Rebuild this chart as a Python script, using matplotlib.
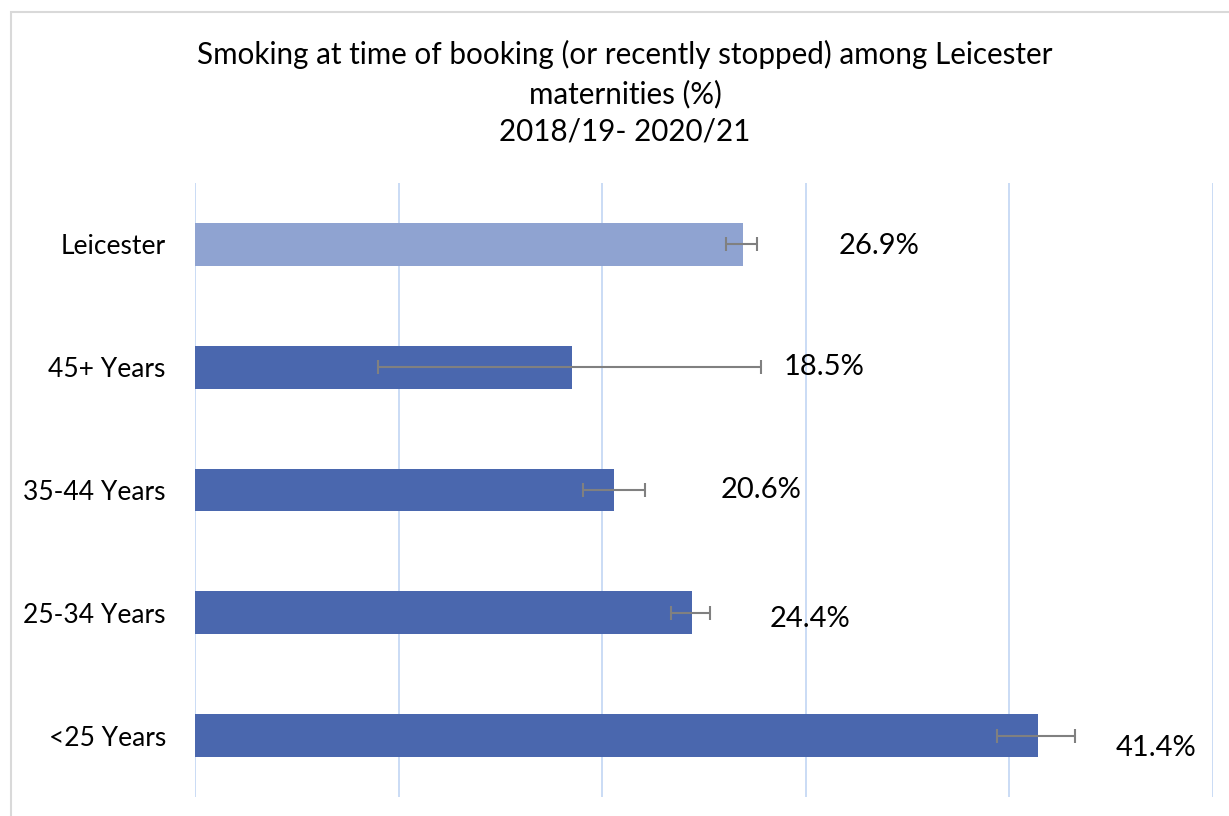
import matplotlib.pyplot as plt
from matplotlib.patches import Rectangle
import numpy as np

plt.rcParams['font.family'] = ['Lato', 'DejaVu Sans']

# data, bottom to top
categories = ["<25 Years", "25-34 Years", "35-44 Years", "45+ Years", "Leicester"]
values = [41.4, 24.4, 20.6, 18.5, 26.9]
ci_low = [39.4, 23.4, 19.05, 9.0, 26.1]
ci_high = [43.2, 25.3, 22.1, 27.8, 27.6]
labels = ["41.4%", "24.4%", "20.6%", "18.5%", "26.9%"]

# where the data labels sit (x in data units, y offset in category units)
label_x = [45.2, 28.2, 25.8, 28.9, 31.6]
label_dy = [-0.1, -0.05, 0.0, 0.0, -0.01]

bar_col = "#4A67AE"
lei_col = "#8FA3D1"
colors = [bar_col] * 4 + [lei_col]

fig = plt.figure(figsize=(12.29, 8.16), dpi=100)
fig.patches.append(Rectangle((11 / 1229, -0.1), 1.2, (816 - 12) / 816 + 0.1,
                             transform=fig.transFigure, fill=False,
                             edgecolor="#D9D9D9", linewidth=1.5))

ax = fig.add_axes([195 / 1229, 19 / 816, (1213 - 195) / 1229, (797 - 183) / 816])
y = np.arange(len(categories))
v = np.array(values)
err = [v - np.array(ci_low), np.array(ci_high) - v]
ax.barh(y, values, height=0.35, color=colors, zorder=2)
ax.errorbar(values, y, xerr=err, fmt="none", ecolor="#808080", elinewidth=1.5,
            capsize=5, capthick=1.5, zorder=3)

for i in range(len(labels)):
    ax.text(label_x[i], y[i] + label_dy[i], labels[i], fontsize=21,
            ha="left", va="center", color="#000000")

ax.set_xlim(0, 50)
ax.set_ylim(-0.5, 4.5)
ax.set_xticks(np.arange(0, 51, 10))
ax.set_xticklabels([])
ax.tick_params(axis="x", length=0)
ax.tick_params(axis="y", length=0, pad=21, labelsize=19)
ax.set_yticks(y)
ax.set_yticklabels(categories)
ax.grid(axis="x", color="#C6D9F5", linewidth=1.3, zorder=0)
for s in ax.spines.values():
    s.set_visible(False)

fig.text(625 / 1229, 1 - 93 / 816,
         "Smoking at time of booking (or recently stopped) among Leicester\nmaternities (%)\n2018/19- 2020/21",
         ha="center", va="center", fontsize=21.3, linespacing=1.42)

fig.savefig("out.png", dpi=100)
